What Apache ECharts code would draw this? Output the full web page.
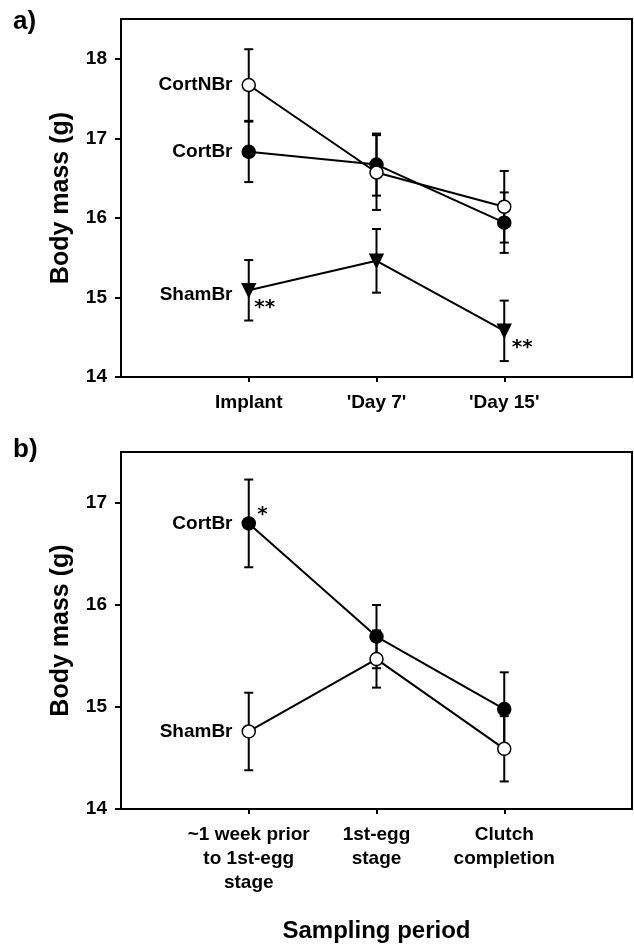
<!DOCTYPE html>
<html>
<head>
<meta charset="utf-8">
<script src="https://cdn.jsdelivr.net/npm/echarts@6/dist/echarts.min.js"></script>
<style>
  html, body { margin: 0; padding: 0; background: #fff; }
  #chart { width: 634px; height: 947px; }
</style>
</head>
<body>
<div id="chart"></div>
<script>
// panel a) sampling points and tick labels
var periodsA = ['Implant', "'Day 7'", "'Day 15'"];
var ticksA = [14, 15, 16, 17, 18];
var cortNBrA = [17.67, 16.57, 16.14];
var cortNBrErrA = [0.45, 0.47, 0.45];
var cortBrA = [16.83, 16.67, 15.94];
var cortBrErrA = [0.38, 0.39, 0.38];
var shamBrA = [15.09, 15.46, 14.58];
var shamBrErrA = [0.38, 0.40, 0.38];

// panel b)
var periodsB = ['~1 week prior\nto 1st-egg\nstage', '1st-egg\nstage', 'Clutch\ncompletion'];
var ticksB = [14, 15, 16, 17];
var cortBrB = [16.80, 15.69, 14.98];
var cortBrErrB = [0.43, 0.31, 0.36];
var shamBrB = [14.76, 15.47, 14.59];
var shamBrErrB = [0.38, 0.28, 0.32];

var xTicks = [1, 2, 3];
var font = "'Liberation Sans', Arial, sans-serif";

var chart = echarts.init(document.getElementById('chart'));

function xAxisFor(idx, labels, name) {
  return {
    type: 'value', gridIndex: idx, min: 0, max: 4,
    name: name, nameLocation: 'middle', nameGap: 110,
    nameTextStyle: { color: '#000', fontSize: 24, fontWeight: 'bold', fontFamily: font },
    axisLine: { lineStyle: { color: '#000', width: 2 } },
    axisTick: { customValues: xTicks, length: 5, lineStyle: { color: '#000', width: 2 } },
    axisLabel: {
      customValues: xTicks, margin: 14, color: '#000', fontSize: 19, lineHeight: 24,
      fontWeight: 'bold', fontFamily: font, align: 'center',
      formatter: function (v) { return labels[v - 1]; }
    },
    splitLine: { show: false }
  };
}

function yAxisFor(idx, ticks, max) {
  return {
    type: 'value', gridIndex: idx, min: 14, max: max,
    name: 'Body mass (g)', nameLocation: 'middle', nameGap: 47,
    nameTextStyle: { color: '#000', fontSize: 25, fontWeight: 'bold', fontFamily: font },
    axisLine: { show: true, lineStyle: { color: '#000', width: 2 } },
    axisTick: { show: true, customValues: ticks, length: 6, lineStyle: { color: '#000', width: 2 } },
    axisLabel: { customValues: ticks, margin: 14, color: '#000', fontSize: 19, fontWeight: 'bold', fontFamily: font },
    splitLine: { show: false }
  };
}

function errorBars(idx, means, errs) {
  return {
    type: 'custom', xAxisIndex: idx, yAxisIndex: idx, z: 1,
    data: means.map(function (m, i) { return [i + 1, m - errs[i], m + errs[i]]; }),
    renderItem: function (params, api) {
      var lo = api.coord([api.value(0), api.value(1)]);
      var hi = api.coord([api.value(0), api.value(2)]);
      var w = 4.5;
      var st = { stroke: '#000', lineWidth: 2 };
      return {
        type: 'group', children: [
          { type: 'line', shape: { x1: hi[0], y1: hi[1], x2: lo[0], y2: lo[1] }, style: st },
          { type: 'line', shape: { x1: hi[0] - w, y1: hi[1], x2: hi[0] + w, y2: hi[1] }, style: st },
          { type: 'line', shape: { x1: lo[0] - w, y1: lo[1], x2: lo[0] + w, y2: lo[1] }, style: st }
        ]
      };
    }
  };
}

function meanLine(idx, means, name, symbol, fill, labelOffset) {
  return {
    type: 'line', name: name, xAxisIndex: idx, yAxisIndex: idx, z: 3,
    symbol: symbol, symbolSize: 13, symbolRotate: symbol === 'triangle' ? 180 : 0,
    showSymbol: true,
    lineStyle: { color: '#000', width: 2 },
    itemStyle: { color: fill, borderColor: '#000', borderWidth: 1.5 },
    data: means.map(function (m, i) {
      var d = { value: [i + 1, m] };
      if (i === 0) {
        d.label = {
          show: true, position: 'left', distance: 9, offset: labelOffset || [0, 0],
          formatter: name, color: '#000', fontSize: 19, fontWeight: 'bold', fontFamily: font
        };
      }
      return d;
    })
  };
}

function stars(idx, points) {
  return {
    type: 'scatter', xAxisIndex: idx, yAxisIndex: idx, z: 4,
    symbolSize: 1, itemStyle: { opacity: 0 },
    data: points.map(function (p) {
      return {
        value: [p[0], p[1]],
        label: {
          show: true, position: 'right', distance: 0, offset: p[3], opacity: 1,
          formatter: p[2], color: '#000', fontSize: 20, fontWeight: 'bold',
          fontFamily: "'DejaVu Sans', sans-serif", textBorderWidth: 0
        }
      };
    })
  };
}

chart.setOption({
  animation: false,
  backgroundColor: '#fff',
  textStyle: { fontFamily: font },
  graphic: [
    { type: 'text', left: 13, top: 9, style: { text: 'a)', fontSize: 26, fontWeight: 'bold', fontFamily: font, fill: '#000' } },
    { type: 'text', left: 13, top: 437, style: { text: 'b)', fontSize: 26, fontWeight: 'bold', fontFamily: font, fill: '#000' } }
  ],
  grid: [
    { left: 121, top: 19, width: 511, height: 358, show: true, borderColor: '#000', borderWidth: 2 },
    { left: 121, top: 452, width: 511, height: 357, show: true, borderColor: '#000', borderWidth: 2 }
  ],
  xAxis: [xAxisFor(0, periodsA, ''), xAxisFor(1, periodsB, 'Sampling period')],
  yAxis: [yAxisFor(0, ticksA, 18.5), yAxisFor(1, ticksB, 17.5)],
  series: [
    errorBars(0, cortNBrA, cortNBrErrA),
    errorBars(0, cortBrA, cortBrErrA),
    errorBars(0, shamBrA, shamBrErrA),
    meanLine(0, cortBrA, 'CortBr', 'circle', '#000'),
    meanLine(0, cortNBrA, 'CortNBr', 'circle', '#fff'),
    meanLine(0, shamBrA, 'ShamBr', 'triangle', '#000', [0, 4]),
    stars(0, [[1, shamBrA[0], '**', [5, 18]], [3, shamBrA[2], '**', [7, 17]]]),
    errorBars(1, cortBrB, cortBrErrB),
    errorBars(1, shamBrB, shamBrErrB),
    meanLine(1, shamBrB, 'ShamBr', 'circle', '#fff'),
    meanLine(1, cortBrB, 'CortBr', 'circle', '#000'),
    stars(1, [[1, cortBrB[0], '*', [8, -9]]])
  ]
});
</script>
</body>
</html>
